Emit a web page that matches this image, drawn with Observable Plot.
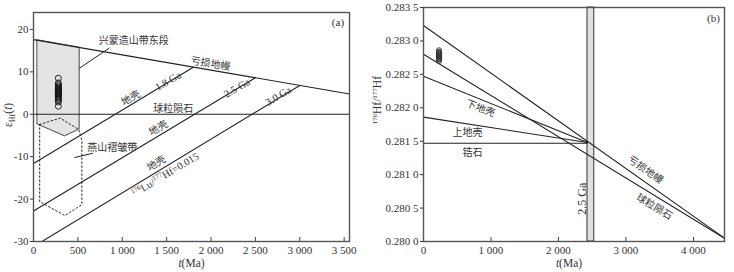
<!DOCTYPE html>
<html><head><meta charset="utf-8">
<script src="https://cdn.jsdelivr.net/npm/d3@7"></script>
<script src="https://cdn.jsdelivr.net/npm/@observablehq/plot@0.6"></script>
<style>
body{margin:0;background:#fff;}
#wrap{display:flex;width:734px;height:272px;}
svg{font-family:"Liberation Serif","Noto Sans CJK SC",serif;}
</style></head><body><div id="wrap"></div>
<script>
// ---------- Panel (a) data: εHf(t) vs t(Ma) ----------
const xTicksA = [0, 500, 1000, 1500, 2000, 2500, 3000, 3500];
const yTicksA = [-30, -20, -10, 0, 10, 20];
const depletedMantleA = [[0, 17.6], [3560, 4.8]];
const chondriteA = [[0, 0], [3560, 0]];
const crust18 = [[0, -11.6], [1800, 11.1]];
const crust25 = [[0, -22.8], [2500, 8.6]];
const crust30 = [[0, -31.2], [3000, 6.8]];
const xingmengField = [[48, 17.45, -2.4], [354, 16.3, -5.2], [520, 15.7, -3.6]]; // t, top, bottom
const yanshanField = [[70, -2.4], [300, -0.9], [510, -3.6], [545, -6.2], [545, -21.3], [354, -23.9], [70, -20.6], [70, -2.4]];
const sampleAgeA = 280;
const sampleEpsA = [8.5, 7.4, 7.0, 6.7, 6.4, 6.1, 5.9, 5.7, 5.5, 5.3, 5.1, 4.9, 4.7, 4.5, 4.2, 3.9, 3.6, 3.3, 2.9, 1.9];
const leaderXingmeng = [[520, 10.9], [853, 15.6]];
const leaderYanshan = [[465, -10.2], [665, -9.2]];
const annotA = [
  {text: "兴蒙造山带东段", t: 1130, v: 17.3, rotate: 0, size: 10},
  {text: "亏损地幔", t: 1993, v: 11.9, rotate: 9.5, size: 10},
  {text: "1.8 Ga", t: 1517, v: 7.8, rotate: -30, size: 10.5},
  {text: "地壳", t: 1096, v: 3.8, rotate: -30, size: 10},
  {text: "球粒陨石", t: 1573, v: 1.3, rotate: 0, size: 10},
  {text: "2.5 Ga", t: 2292, v: 6.2, rotate: -30, size: 10.5},
  {text: "地壳", t: 1406, v: -3.3, rotate: -30, size: 10},
  {text: "3.0 Ga", t: 2757, v: 4.3, rotate: -31, size: 10.5},
  {text: "地壳", t: 1384, v: -11.6, rotate: -31, size: 10},
  {text: "燕山褶皱带", t: 886, v: -7.8, rotate: 0, size: 10},
  {text: "(a)", t: 3430, v: 21.6, rotate: 0, size: 11}
];
const luLabel = [{t: 1484, v: -14.3}];

// ---------- Panel (b) data: 176Hf/177Hf vs t(Ma) ----------
const xTicksB = [0, 1000, 2000, 3000, 4000];
const yTicksB = [0.2800, 0.2805, 0.2810, 0.2815, 0.2820, 0.2825, 0.2830, 0.2835];
const depletedMantleB = [[0, 0.28323], [4460, 0.28005]];
const chondriteB = [[0, 0.28280], [4460, 0.28005]];
const lowerCrustB = [[0, 0.28247], [2430, 0.28148]];
const upperCrustB = [[0, 0.28186], [2430, 0.28148]];
const zirconB = [[0, 0.28147], [2430, 0.28147]];
const band25 = [[2430, 2530]];
const sampleAgeB = 230;
const sampleHfB = [0.28286, 0.28284, 0.28283, 0.28282, 0.28281, 0.28280, 0.28279, 0.28278, 0.28277, 0.28276, 0.28275, 0.28274, 0.28273, 0.28272, 0.28270];
const annotB = [
  {text: "下地壳", t: 844, v: 0.28199, rotate: 21, size: 10},
  {text: "上地壳", t: 652, v: 0.28162, rotate: 0, size: 10},
  {text: "锆石", t: 726, v: 0.28133, rotate: 0, size: 10},
  {text: "2.5 Ga", t: 2356, v: 0.28064, rotate: -90, size: 12},
  {text: "亏损地幔", t: 3290, v: 0.28107, rotate: 35, size: 10},
  {text: "球粒陨石", t: 3420, v: 0.28052, rotate: 31, size: 10},
  {text: "(b)", t: 4296, v: 0.28334, rotate: 0, size: 11}
];

const ink = "#222";
const fmtThousands = d => d < 1000 ? String(d) : `${Math.floor(d / 1000)} ${String(d % 1000).padStart(3, "0")}`;
const fmtRatio = d => { const s = d.toFixed(4); return s.slice(0, 5) + " " + s.slice(5); };
const style = {fontFamily: '"Liberation Serif","Noto Sans CJK SC",serif', fontSize: "11px", color: "#333", background: "transparent"};
const lineOf = (pts, opts = {}) => Plot.line(pts, {x: d => d[0], y: d => d[1], stroke: ink, strokeWidth: 1.1, ...opts});

// ---------- Panel (a) ----------
const frameHA = 272 - 12 - 31;
const plotA = Plot.plot({
  width: 360, height: 272, marginLeft: 33, marginRight: 11, marginTop: 12, marginBottom: 31,
  style,
  x: {domain: [0, 3560]},
  y: {domain: [-30, 24]},
  marks: [
    Plot.areaY(xingmengField, {x: d => d[0], y1: d => d[2], y2: d => d[1], fill: "#e4e4e4", stroke: "#333", strokeWidth: 0.9}),
    lineOf(yanshanField, {strokeDasharray: "1.6,2.4", strokeWidth: 1}),
    lineOf(depletedMantleA),
    lineOf(chondriteA),
    lineOf(crust18),
    lineOf(crust25),
    lineOf(crust30, {clip: true}),
    lineOf(leaderXingmeng, {strokeWidth: 1}),
    lineOf(leaderYanshan, {strokeWidth: 1}),
    Plot.dot(sampleEpsA, {x: () => sampleAgeA, y: d => d, r: 3, stroke: "#111", fill: "none", strokeWidth: 0.9}),
    Plot.text(annotA, {x: "t", y: "v", text: "text", rotate: "rotate", fontSize: d => d.size, fill: "#333"}),
    Plot.text(luLabel, {x: "t", y: "v", text: () => "176Lu/177Hf=0.015", rotate: -31, fontSize: 10.5, fill: "#333", className: "lu-lab"}),
    Plot.ruleX(xTicksA, {x: d => d, insetTop: frameHA - 4, stroke: "#444"}),
    Plot.axisX({ticks: xTicksA, tickFormat: fmtThousands, tickSize: 0, tickPadding: 5, label: null}),
    Plot.axisY({ticks: yTicksA, tickFormat: d => String(d), tickSize: 3, tickPadding: 2, label: null}),
    Plot.text(["x"], {frameAnchor: "bottom", dy: 25, text: () => "t(Ma)", fontSize: 11.5, fill: "#333", className: "xlab-a"}),
    Plot.text(["y"], {frameAnchor: "left", dx: -25, rotate: -90, text: () => "εHf(t)", fontSize: 11.5, fill: "#333", className: "ylab-a"}),
    Plot.frame({stroke: "#555", strokeWidth: 1.4})
  ]
});

// ---------- Panel (b) ----------
const frameHB = 272 - 7 - 31;
const plotB = Plot.plot({
  width: 374, height: 272, marginLeft: 63, marginRight: 10, marginTop: 7, marginBottom: 31,
  style,
  x: {domain: [0, 4460]},
  y: {domain: [0.2800, 0.2835]},
  marks: [
    Plot.rect(band25, {x1: d => d[0], x2: d => d[1], y1: () => 0.2800, y2: () => 0.2835, fill: "#e0e0e0", stroke: "#444", strokeWidth: 1.1}),
    lineOf(depletedMantleB),
    lineOf(chondriteB),
    lineOf(lowerCrustB),
    lineOf(upperCrustB),
    lineOf(zirconB),
    Plot.dot(sampleHfB, {x: () => sampleAgeB, y: d => d, r: 2.6, stroke: "#333", fill: "none", strokeWidth: 0.8}),
    Plot.text(annotB, {x: "t", y: "v", text: "text", rotate: "rotate", fontSize: d => d.size, fill: "#333"}),
    Plot.ruleX(xTicksB, {x: d => d, insetTop: frameHB - 4, stroke: "#444"}),
    Plot.axisX({ticks: xTicksB, tickFormat: fmtThousands, tickSize: 0, tickPadding: 5, label: null}),
    Plot.axisY({ticks: yTicksB, tickFormat: fmtRatio, tickSize: 3, tickPadding: 2, label: null}),
    Plot.text(["x"], {frameAnchor: "bottom", dy: 25, dx: -5, text: () => "t(Ma)", fontSize: 11.5, fill: "#333", className: "xlab-b"}),
    Plot.text(["y"], {frameAnchor: "left", dx: -46, rotate: -90, text: () => "176Hf/177Hf", fontSize: 11.5, fill: "#333", className: "ylab-b"}),
    Plot.frame({stroke: "#555", strokeWidth: 1.4})
  ]
});

const wrap = document.getElementById("wrap");
wrap.appendChild(plotA);
wrap.appendChild(plotB);

// rich-text labels (superscripts, subscripts, italics)
const rich = (svg, cls, html) => d3.select(svg).selectAll(`.${cls} text`).html(html);
const sup = n => `<tspan dy="-4" font-size="7">${n}</tspan>`;
rich(plotA, "lu-lab", `${sup(176)}<tspan dy="4">Lu/</tspan>${sup(177)}<tspan dy="4">Hf=0.015</tspan>`);
rich(plotA, "xlab-a", `<tspan font-style="italic">t</tspan>(Ma)`);
rich(plotB, "xlab-b", `<tspan font-style="italic">t</tspan>(Ma)`);
rich(plotA, "ylab-a", `ε<tspan dy="3" font-size="8">Hf</tspan><tspan dy="-3">(</tspan><tspan font-style="italic">t</tspan>)`);
rich(plotB, "ylab-b", `${sup(176)}<tspan dy="4">Hf/</tspan>${sup(177)}<tspan dy="4">Hf</tspan>`);
</script></body></html>
